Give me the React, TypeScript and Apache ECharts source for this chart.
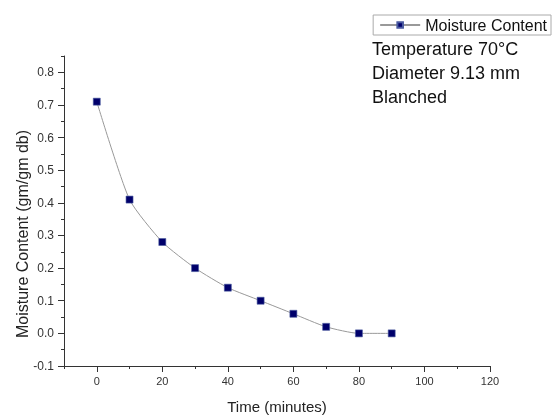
import React, { useEffect, useRef } from "react";
import * as echarts from "echarts";

const times = [0, 10, 20, 30, 40, 50, 60, 70, 80, 90];
const moisture = [0.71, 0.41, 0.28, 0.2, 0.14, 0.1, 0.06, 0.02, 0.0, 0.0];
const xMajorTicks = [0, 20, 40, 60, 80, 100, 120];
const xMinorTicks = [-10, 10, 30, 50, 70, 90, 110];
const yMajorTicks = [-0.1, 0, 0.1, 0.2, 0.3, 0.4, 0.5, 0.6, 0.7, 0.8];
const yMinorTicks = [-0.05, 0.05, 0.15, 0.25, 0.35, 0.45, 0.55, 0.65, 0.75, 0.85];
const notes = ["Temperature 70°C", "Diameter 9.13 mm", "Blanched"];
const yAxisTitle = "Moisture Content (gm/gm db)";
const xAxisTitle = "Time (minutes)";
const seriesName = "Moisture Content";

const FONT = "'Liberation Sans', Arial, sans-serif";

export default function App() {
  const ref = useRef<HTMLDivElement>(null);
  useEffect(() => {
    if (!ref.current) return;
    const chart = echarts.init(ref.current, null, { renderer: "svg" });
    const axisColor = "#333";
    chart.setOption({
      animation: false,
      textStyle: { fontFamily: FONT },
      grid: { left: 64, right: 64, top: 56, bottom: 46, containLabel: false },
      legend: {
        right: 3,
        top: 15,
        orient: "horizontal",
        borderColor: "#aaa",
        borderWidth: 1,
        borderRadius: 0,
        padding: [2, 4, 2, 6],
        itemWidth: 40,
        itemHeight: 7,
        itemGap: 4,
        textStyle: { fontSize: 16, color: "#111", fontFamily: FONT },
        data: [seriesName],
      },
      xAxis: [
        {
          type: "value",
          min: -10,
          max: 120,
          position: "bottom",
          name: xAxisTitle,
          nameLocation: "middle",
          nameGap: 33,
          nameTextStyle: { fontSize: 15, color: "#222", fontFamily: FONT },
          axisLine: { show: true, onZero: false, lineStyle: { color: axisColor, width: 1 } },
          axisTick: { show: true, customValues: xMajorTicks, length: 6, lineStyle: { color: axisColor } },
          axisLabel: { customValues: xMajorTicks, fontSize: 11, color: "#333", margin: 9, fontFamily: FONT },
          splitLine: { show: false },
        },
        {
          type: "value",
          min: -10,
          max: 120,
          position: "bottom",
          offset: 0,
          axisLine: { show: false, onZero: false },
          axisTick: { show: true, customValues: xMinorTicks, length: 3, lineStyle: { color: axisColor } },
          axisLabel: { show: false },
          splitLine: { show: false },
        },
      ],
      yAxis: [
        {
          type: "value",
          min: -0.1,
          max: 0.85,
          position: "left",
          axisLine: { show: true, onZero: false, lineStyle: { color: axisColor, width: 1 } },
          axisTick: { show: true, customValues: yMajorTicks, length: 6, lineStyle: { color: axisColor } },
          axisLabel: {
            customValues: yMajorTicks,
            fontSize: 12,
            color: "#333",
            margin: 10,
            fontFamily: FONT,
            formatter: (v: number) => v.toFixed(1),
          },
          splitLine: { show: false },
        },
        {
          type: "value",
          min: -0.1,
          max: 0.85,
          position: "left",
          offset: 0,
          axisLine: { show: false, onZero: false },
          axisTick: { show: true, customValues: yMinorTicks, length: 3, lineStyle: { color: axisColor } },
          axisLabel: { show: false },
          splitLine: { show: false },
        },
      ],
      series: [
        {
          name: seriesName,
          type: "line",
          xAxisIndex: 0,
          yAxisIndex: 0,
          data: times.map((t, i) => [t, moisture[i]]),
          smooth: 0.2,
          symbol: "rect",
          symbolSize: 7,
          showAllSymbol: true,
          lineStyle: { color: "#999", width: 1 },
          itemStyle: { color: "#00006b", borderColor: "#4a5aa0", borderWidth: 0.6 },
        },
      ],
      graphic: [
        ...notes.map((t, i) => ({
          type: "text",
          left: 372,
          top: 40 + i * 24,
          style: { text: t, fontSize: 18, fill: "#111", fontFamily: FONT },
        })),
        {
          type: "text",
          x: 22,
          y: 234,
          rotation: Math.PI / 2,
          style: {
            text: yAxisTitle,
            fontSize: 16,
            fill: "#222",
            fontFamily: FONT,
            align: "center",
            verticalAlign: "middle",
          },
        },
      ],
    });
    return () => chart.dispose();
  }, []);
  return <div ref={ref} style={{ position: "fixed", left: 0, top: 0, width: 554, height: 419 }} />;
}
